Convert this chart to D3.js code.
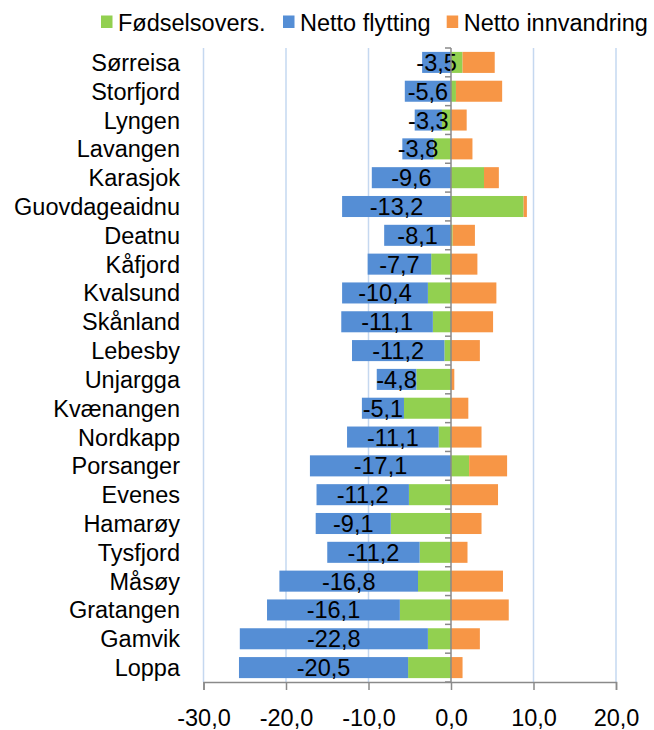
<!DOCTYPE html>
<html>
<head>
<meta charset="utf-8">
<script src="https://d3js.org/d3.v7.min.js"></script>
<style>
    body { margin: 0; background: #fff; }
    text { font-family: "Liberation Sans", Arial, sans-serif; }
</style>
</head>
<body>
<div id="chart"></div>
<script>

//Chart values
var kommuner = ["Sørreisa", "Storfjord", "Lyngen", "Lavangen", "Karasjok", "Guovdageaidnu", "Deatnu",
    "Kåfjord", "Kvalsund", "Skånland", "Lebesby", "Unjargga", "Kvænangen", "Nordkapp", "Porsanger",
    "Evenes", "Hamarøy", "Tysfjord", "Måsøy", "Gratangen", "Gamvik", "Loppa"];
var fodselsovers = [1.4, 0.6, -1.1, -2.1, 4.0, 8.8, 0.2, -2.4, -2.8, -2.2, -0.8, -4.2, -5.7, -1.5, 2.2,
    -5.1, -7.3, -3.8, -4.0, -6.2, -2.8, -5.2];
var nettoFlytting = [-3.5, -5.6, -3.3, -3.8, -9.6, -13.2, -8.1, -7.7, -10.4, -11.1, -11.2, -4.8, -5.1,
    -11.1, -17.1, -11.2, -9.1, -11.2, -16.8, -16.1, -22.8, -20.5];
var nettoInnvandring = [3.9, 5.6, 1.9, 2.6, 1.8, 0.4, 2.7, 3.2, 5.5, 5.1, 3.5, 0.4, 2.1, 3.7, 4.6, 5.7,
    3.7, 2.0, 6.3, 7.0, 3.5, 1.4];
var seriesNames = ["Fødselsovers.", "Netto flytting", "Netto innvandring"];
var xTicks = [-30, -20, -10, 0, 10, 20];

var colors = {"Fødselsovers.": "#92d050", "Netto flytting": "#558ed5", "Netto innvandring": "#f79646"};

var margin = {top: 48, right: 38, bottom: 48, left: 203.5};
var width = 654 - margin.left - margin.right;
var height = 730 - margin.top - margin.bottom;

var svg = d3.select("#chart").append("svg")
    .attr("width", 654)
    .attr("height", 730);

var g = svg.append("g")
    .attr("transform", "translate(" + margin.left + "," + margin.top + ")");

//Norwegian number format (comma decimal)
var nb = d3.formatLocale({decimal: ",", thousands: " ", grouping: [3], currency: ["", " kr"], minus: "-"});
var fmt = nb.format(".1f");

//Table for the stack
var rows = kommuner.map(function (k, i) {
    return {
        kommune: k,
        "Fødselsovers.": fodselsovers[i],
        "Netto flytting": nettoFlytting[i],
        "Netto innvandring": nettoInnvandring[i]
    };
});

var stacked = d3.stack()
    .keys(seriesNames)
    .offset(d3.stackOffsetDiverging)(rows);

//Scales
var x = d3.scaleLinear()
    .domain([-30, 20])
    .range([0, width]);

var y = d3.scaleBand()
    .domain(kommuner)
    .range([0, height])
    .paddingInner(0.27)
    .paddingOuter(0.135);

//Gridlines
g.append("g")
    .selectAll("line")
    .data(xTicks.filter(function (d) { return d !== 0; }))
    .enter().append("line")
    .attr("x1", function (d) { return x(d); })
    .attr("x2", function (d) { return x(d); })
    .attr("y1", 0)
    .attr("y2", height)
    .attr("stroke", "#c5d8f0")
    .attr("stroke-width", 1.5);

//Bars
g.append("g")
    .selectAll("g")
    .data(stacked)
    .enter().append("g")
    .attr("fill", function (d) { return colors[d.key]; })
    .selectAll("rect")
    .data(function (d) { return d; })
    .enter().append("rect")
    .attr("x", function (d) { return x(Math.min(d[0], d[1])); })
    .attr("width", function (d) { return Math.abs(x(d[1]) - x(d[0])); })
    .attr("y", function (d) { return y(d.data.kommune); })
    .attr("height", y.bandwidth());

//Data labels on Netto flytting
var flyttSeries = stacked[1];
g.append("g")
    .selectAll("text")
    .data(flyttSeries)
    .enter().append("text")
    .attr("x", function (d) { return x((d[0] + d[1]) / 2); })
    .attr("y", function (d) { return y(d.data.kommune) + y.bandwidth() / 2; })
    .attr("dy", "0.36em")
    .attr("text-anchor", "middle")
    .attr("font-size", "23.5px")
    .attr("fill", "#000")
    .text(function (d) { return fmt(d.data["Netto flytting"]); });

//Category axis at zero
var yAxis = g.append("g")
    .attr("transform", "translate(" + x(0) + ",0)");

yAxis.append("line")
    .attr("y1", 0)
    .attr("y2", height)
    .attr("stroke", "#8a8a8a")
    .attr("stroke-width", 1.5);

yAxis.selectAll(".tick")
    .data(d3.range(kommuner.length + 1))
    .enter().append("line")
    .attr("x1", -6)
    .attr("x2", 0)
    .attr("y1", function (i) { return i * height / kommuner.length; })
    .attr("y2", function (i) { return i * height / kommuner.length; })
    .attr("stroke", "#8a8a8a")
    .attr("stroke-width", 1.5);

//Category labels (low position)
g.append("g")
    .selectAll("text")
    .data(kommuner)
    .enter().append("text")
    .attr("x", 180 - margin.left)
    .attr("y", function (d) { return y(d) + y.bandwidth() / 2; })
    .attr("dy", "0.36em")
    .attr("text-anchor", "end")
    .attr("font-size", "23.5px")
    .attr("fill", "#000")
    .text(function (d) { return d; });

//X Axis
var xAxisCall = d3.axisBottom(x)
    .tickValues(xTicks)
    .tickSize(8)
    .tickPadding(19)
    .tickFormat(function (d) { return fmt(d); });

var xAxis = g.append("g")
    .attr("transform", "translate(0," + height + ")")
    .call(xAxisCall);

xAxis.select(".domain")
    .attr("stroke", "#8a8a8a")
    .attr("stroke-width", 1.5);
xAxis.selectAll(".tick line")
    .attr("stroke", "#8a8a8a")
    .attr("stroke-width", 1.5);
xAxis.selectAll(".tick text")
    .attr("font-size", "23.5px")
    .attr("font-family", "Liberation Sans, Arial, sans-serif")
    .attr("fill", "#000");

//Legend
var legendX = [101, 283, 446.7];
var legend = svg.append("g")
    .selectAll("g")
    .data(seriesNames)
    .enter().append("g")
    .attr("transform", function (d, i) { return "translate(" + legendX[i] + ",0)"; });

legend.append("rect")
    .attr("x", 0)
    .attr("y", 15.5)
    .attr("width", 11.5)
    .attr("height", 12.5)
    .attr("fill", function (d) { return colors[d]; });

legend.append("text")
    .attr("x", 17)
    .attr("y", 30.5)
    .attr("font-size", "23.5px")
    .attr("fill", "#000")
    .text(function (d) { return d; });

</script>
</body>
</html>
